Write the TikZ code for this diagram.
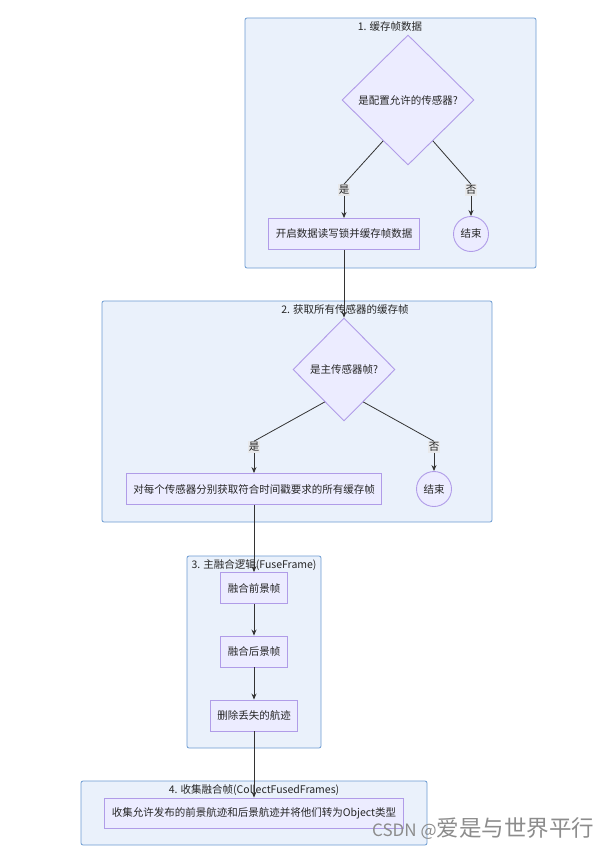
\documentclass[tikz,border=0pt]{standalone}
\usepackage{fontspec}
\setmainfont{Noto Sans CJK SC}
\usetikzlibrary{shapes.geometric,arrows.meta,calc}
\definecolor{clfill}{HTML}{EAF1FB}
\definecolor{cldraw}{HTML}{6C9BD2}
\definecolor{ndfill}{HTML}{ECECFF}
\definecolor{nddraw}{HTML}{B09CE8}
\definecolor{lblfill}{HTML}{E8E8E8}
\definecolor{edge}{HTML}{333333}
\begin{document}
\begin{tikzpicture}[x=1pt,y=-1pt,
  font=\fontsize{10.5}{12}\selectfont,
  cluster/.style={draw=cldraw,fill=clfill,rounded corners=2pt,line width=0.8pt},
  ctitle/.style={inner sep=0pt,text=black!85},
  proc/.style={draw=nddraw,fill=ndfill,line width=0.9pt,minimum height=31pt,inner xsep=7pt,text=black!85},
  decision/.style={diamond,draw=nddraw,fill=ndfill,line width=0.9pt,inner sep=0pt,text=black!85},
  endc/.style={circle,draw=nddraw,fill=ndfill,line width=0.9pt,minimum size=35pt,inner sep=0pt,text=black!85},
  elabel/.style={fill=lblfill,fill opacity=0.8,text opacity=1,inner sep=1pt,text=black!85},
  conn/.style={draw=edge,line width=0.8pt},
  arr/.style={conn,-{Stealth[length=6pt,width=5pt]}}
]
\useasboundingbox (0,0) rectangle (599,850);
\fill[white] (0,0) rectangle (599,850);

% clusters
\draw[cluster] (245,18) rectangle (536,268);
\node[ctitle] (t1) at (390,27) {1. 缓存帧数据};
\draw[cluster] (102,301) rectangle (492,522);
\node[ctitle] (t2) at (345,310) {2. 获取所有传感器的缓存帧};
\draw[cluster] (187,556) rectangle (321,748);
\node[ctitle] (t3) at (254,565) {3. 主融合逻辑(FuseFrame)};
\draw[cluster] (81,781) rectangle (427,845);
\node[ctitle] (t4) at (254,790) {4. 收集融合帧(CollectFusedFrames)};

% cluster 1 nodes
\node[decision,minimum width=132pt,minimum height=130pt] (d1) at (408,100) {是配置允许的传感器?};
\node[proc] (b1) at (344,234) {开启数据读写锁并缓存帧数据};
\node[endc] (e1) at (471,234) {结束};
\node[elabel] (y1) at (344,190) {是};
\node[elabel] (n1) at (471,190) {否};

% cluster 2 nodes
\node[decision,minimum width=102pt,minimum height=103pt] (d2) at (344,369.5) {是主传感器帧?};
\node[proc] (b2) at (254,489) {对每个传感器分别获取符合时间戳要求的所有缓存帧};
\node[endc] (e2) at (434,489) {结束};
\node[elabel] (y2) at (254,447) {是};
\node[elabel] (n2) at (434,447) {否};

% cluster 3 nodes
\node[proc] (f1) at (254,588) {融合前景帧};
\node[proc] (f2) at (254,651.5) {融合后景帧};
\node[proc] (f3) at (254,715.5) {删除丢失的航迹};

% cluster 4 node
\node[proc,minimum height=30pt] (c1) at (254,813) {收集允许发布的前景航迹和后景航迹并将他们转为Object类型};

% edges cluster 1
\draw[conn] ($(d1.south west)!0.25!(d1.south)$) -- (y1.north);
\draw[arr] (y1.south) -- (b1.north);
\draw[conn] ($(d1.south east)!0.25!(d1.south)$) -- (n1.north);
\draw[arr] (n1.south) -- (e1.north);
% into cluster 2
\draw[arr] (b1.south) -- (d2.north);
\draw[conn] ($(d2.south west)!0.25!(d2.south)$) -- (y2.north);
\draw[arr] (y2.south) -- (b2.north);
\draw[conn] ($(d2.south east)!0.25!(d2.south)$) -- (n2.north);
\draw[arr] (n2.south) -- (e2.north);
% into cluster 3
\draw[arr] (b2.south) -- (f1.north);
\draw[arr] (f1.south) -- (f2.north);
\draw[arr] (f2.south) -- (f3.north);
% into cluster 4
\draw[arr] (f3.south) -- (c1.north);

% watermark
\node[text=black!45,anchor=base west,inner sep=0pt] (wm) at (372,836) {{\fontsize{17}{20}\selectfont CSDN @}{\fontsize{22.5}{24}\selectfont 爱是与世界平行}};
\end{tikzpicture}
\end{document}
